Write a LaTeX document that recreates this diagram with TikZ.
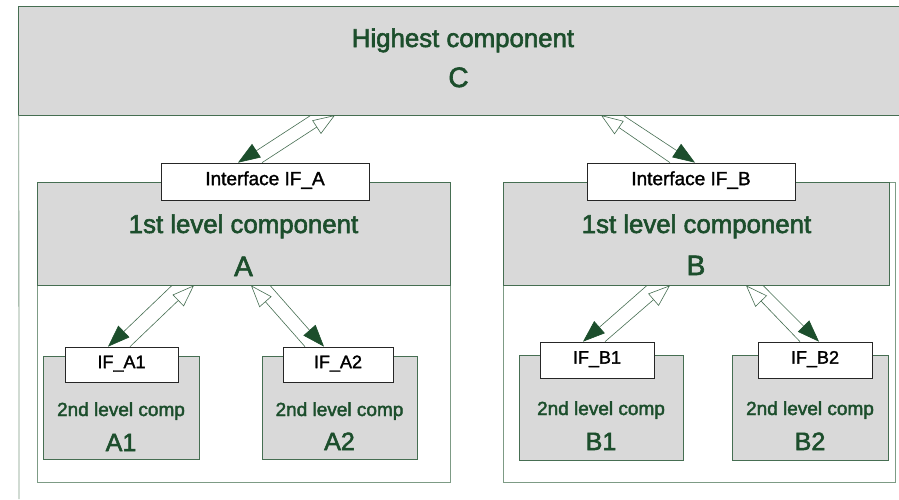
\documentclass[tikz,border=0pt]{standalone}
\usepackage{fontspec}
\setmainfont{Liberation Sans}
\newfontfamily\heavysans{Liberation Sans}[FakeBold=2.2]
\newfontfamily\labelsans{Liberation Sans}[FakeBold=1.6]
\usetikzlibrary{arrows.meta}
\definecolor{dkgreen}{RGB}{28,78,44}
\definecolor{edgegreen}{RGB}{70,110,82}
\definecolor{framegreen}{RGB}{125,155,133}
\definecolor{boxgray}{RGB}{217,217,217}

\begin{document}
\begin{tikzpicture}[x=1pt,y=-1pt,
  graybox/.style={draw=edgegreen, fill=boxgray, line width=0.8pt, inner sep=0pt, rectangle},
  framebox/.style={draw=framegreen, line width=0.8pt, inner sep=0pt, rectangle},
  iface/.style={draw=black!85, fill=white, line width=0.7pt, inner sep=0pt,
    text height=0.72em, text depth=0pt, font=\labelsans\fontsize{19}{22}\selectfont},
  subiface/.style={iface, font=\labelsans\fontsize{18}{21}\selectfont},
  titletext/.style={inner sep=0pt, anchor=base, text=dkgreen, font=\heavysans\fontsize{25.8}{30}\selectfont},
  bigname/.style={inner sep=0pt, anchor=base, text=dkgreen, font=\heavysans\fontsize{28}{32}\selectfont},
  subtext/.style={inner sep=0pt, anchor=base, text=dkgreen, font=\heavysans\fontsize{19}{22}\selectfont},
  subname/.style={inner sep=0pt, anchor=base, text=dkgreen, font=\heavysans\fontsize{25}{28}\selectfont},
  fwd/.style={draw=edgegreen, line width=0.6pt,
    -{Triangle[length=22pt,width=16pt,color=dkgreen,fill=dkgreen]}},
  back/.style={draw=edgegreen, line width=0.6pt,
    -{Triangle[open,length=22pt,width=16pt]}}
]
\useasboundingbox (0,0) rectangle (899,499);
\fill[white] (0,0) rectangle (899,499);

% highest component band and the outer frame
\node[fill=boxgray, inner sep=0pt, minimum width=880pt, minimum height=108pt] (C) at (459,61) {};
\coordinate (frameend) at (19,499);
\draw[edgegreen, line width=0.8pt] (C.north east) -- (C.north west) -- (C.south west) -- (C.south east);
\draw[framegreen, line width=0.8pt] (C.south west) -- (frameend);

% first level components
\node[framebox, minimum width=413pt, minimum height=300pt] (Aout) at (243.5,332) {};
\node[graybox, minimum width=413pt, minimum height=103pt] (A) at (243.5,233.5) {};
\node[framebox, minimum width=392pt, minimum height=300pt] (Bout) at (699,332) {};
\node[graybox, minimum width=386pt, minimum height=103pt] (B) at (696,233.5) {};

% second level components
\node[graybox, minimum width=156pt, minimum height=103pt] (A1) at (121,407.5) {};
\node[graybox, minimum width=155pt, minimum height=103pt] (A2) at (339.5,407.5) {};
\node[graybox, minimum width=164pt, minimum height=105pt] (B1) at (601,407.5) {};
\node[graybox, minimum width=156pt, minimum height=105pt] (B2) at (810,407.5) {};

% interfaces
\node[iface, minimum width=208pt, minimum height=37pt] (IFA) at (265,181.5) {Interface IF\_A};
\node[iface, minimum width=208pt, minimum height=37pt] (IFB) at (691,181.5) {Interface IF\_B};
\node[subiface, minimum width=113pt, minimum height=35pt] (IFA1) at (121.5,364.5) {IF\_A1};
\node[subiface, minimum width=110pt, minimum height=35pt] (IFA2) at (338,364.5) {IF\_A2};
\node[subiface, minimum width=114pt, minimum height=36pt] (IFB1) at (597,360) {IF\_B1};
\node[subiface, minimum width=114pt, minimum height=36pt] (IFB2) at (815,360) {IF\_B2};

% labels
\node[titletext] (Ctitle) at (463,47) {Highest component};
\node[bigname] (Cname) at (458.5,87) {C};
\node[titletext] (Atitle) at (243.5,233) {1st level component};
\node[bigname] (Aname) at (243.5,276) {A};
\node[titletext] (Btitle) at (696.5,233) {1st level component};
\node[bigname] (Bname) at (696,275) {B};
\node[subtext] (A1t) at (121,416) {2nd level comp};
\node[subname] (A1n) at (121,451) {A1};
\node[subtext] (A2t) at (339.5,416) {2nd level comp};
\node[subname] (A2n) at (339.5,450) {A2};
\node[subtext] (B1t) at (601,415) {2nd level comp};
\node[subname] (B1n) at (601,450) {B1};
\node[subtext] (B2t) at (810,415) {2nd level comp};
\node[subname] (B2n) at (810,450) {B2};

% interface connections
\draw[fwd]  ([xshift=-148pt]C.south) -- ([xshift=-27pt]IFA.north);
\draw[back] ([xshift=-3pt]IFA.north) -- ([xshift=-124pt]C.south);
\draw[fwd]  ([xshift=164pt]C.south) -- ([xshift=4pt]IFB.north);
\draw[back] ([xshift=-21pt]IFB.north) -- ([xshift=142pt]C.south);

\draw[fwd]  ([xshift=-71.5pt]A.south) -- ([xshift=-13.5pt]IFA1.north);
\draw[back] ([xshift=8.5pt]IFA1.north) -- ([xshift=-49.5pt]A.south);
\draw[back] ([xshift=-33pt]IFA2.north) -- ([xshift=7.5pt]A.south);
\draw[fwd]  ([xshift=26.5pt]A.south) -- ([xshift=-14pt]IFA2.north);

\draw[fwd]  ([xshift=-49pt]B.south) -- ([xshift=-14pt]IFB1.north);
\draw[back] ([xshift=8pt]IFB1.north) -- ([xshift=-26pt]B.south);
\draw[back] ([xshift=-15pt]IFB2.north) -- ([xshift=50pt]B.south);
\draw[fwd]  ([xshift=67pt]B.south) -- ([xshift=4pt]IFB2.north);
\end{tikzpicture}
\end{document}
